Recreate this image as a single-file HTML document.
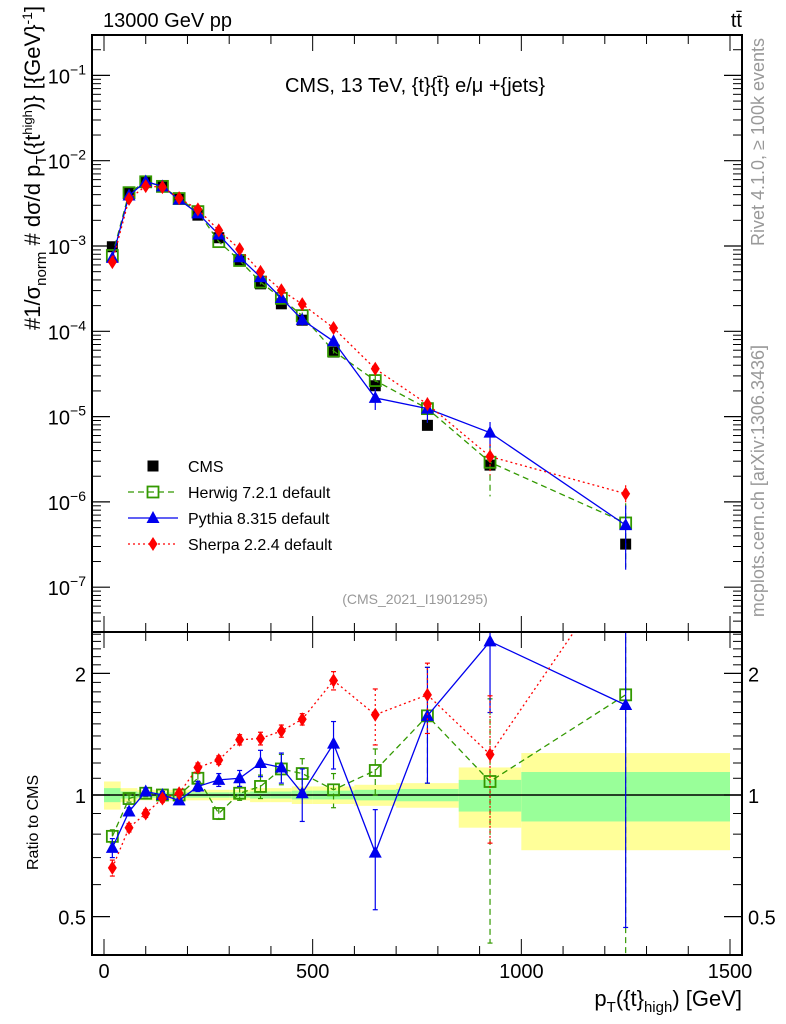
<!DOCTYPE html>
<html><head><meta charset="utf-8"><style>
html,body{margin:0;padding:0;background:#fff;}
svg{display:block;font-family:"Liberation Sans",sans-serif;}
</style></head><body>
<svg id="c" width="786" height="1024" viewBox="0 0 786 1024" xmlns="http://www.w3.org/2000/svg">
<defs>
<clipPath id="cm"><rect x="92" y="35" width="650" height="597"/></clipPath>
<clipPath id="cr"><rect x="92" y="632" width="650" height="323"/></clipPath>
</defs>
<text x="103" y="27" font-size="20">13000 GeV pp</text>
<text x="742" y="27" font-size="20" text-anchor="end">tt̄</text>
<text x="415" y="92" font-size="20" text-anchor="middle">CMS, 13 TeV, {t}{t̄} e/μ +{jets}</text>
<text x="415" y="604" font-size="14" fill="#999" text-anchor="middle">(CMS_2021_I1901295)</text>
<text transform="translate(764,38) rotate(-90)" font-size="18" fill="#999" text-anchor="end">Rivet 4.1.0, ≥ 100k events</text>
<text transform="translate(764,345) rotate(-90)" font-size="18" fill="#999" text-anchor="end">mcplots.cern.ch [arXiv:1306.3436]</text>
<text transform="translate(40,330) rotate(-90)" font-size="22">#<tspan dy="0">1/σ</tspan><tspan font-size="15" dy="6">norm</tspan><tspan dy="-6"> # dσ/d p</tspan><tspan font-size="15" dy="6">T</tspan><tspan dy="-6">({t</tspan><tspan font-size="13" dy="-8">high</tspan><tspan dy="8">)} [{GeV}</tspan><tspan font-size="14" dy="-8">-1</tspan><tspan dy="8">]</tspan></text>
<text transform="translate(38,870) rotate(-90)" font-size="16">Ratio to CMS</text>
<text x="742" y="1006" font-size="22" text-anchor="end">p<tspan font-size="15" dy="6">T</tspan><tspan dy="-6">({t}</tspan><tspan font-size="15" dy="6">high</tspan><tspan dy="-6">) [GeV]</tspan></text>
<g id="g"></g>
</svg>
<script>
const xCenters=[20,60,100,140,180,225,275,325,375,425,475,550,650,775,925,1250];
const binEdges=[0,40,80,120,160,200,250,300,350,400,450,500,600,700,850,1000,1500];
const cmsVals=[9.8e-4,4.3e-3,5.6e-3,5.0e-3,3.6e-3,2.3e-3,1.25e-3,6.7e-4,3.6e-4,2.1e-4,1.35e-4,5.7e-5,2.3e-5,7.9e-6,2.7e-6,3.2e-7];
const bandYellow=[0.08,0.04,0.03,0.03,0.03,0.03,0.03,0.03,0.04,0.04,0.05,0.05,0.06,0.07,0.17,0.27];
const bandGreen=[0.04,0.02,0.015,0.015,0.015,0.015,0.015,0.015,0.02,0.02,0.025,0.025,0.03,0.035,0.09,0.14];
const herwigRatio=[0.79,0.98,1.01,1.0,1.0,1.10,0.90,1.01,1.05,1.16,1.13,1.03,1.15,1.57,1.08,1.77];
const herwigErr=[0.03,0.02,0.02,0.02,0.02,0.03,0.03,0.04,0.07,0.1,0.1,0.1,0.15,0.5,0.65,1.5];
const pythiaRatio=[0.74,0.91,1.02,1.0,0.97,1.05,1.09,1.10,1.20,1.17,1.01,1.34,0.72,1.57,2.4,1.67];
const pythiaErr=[0.04,0.02,0.02,0.02,0.02,0.03,0.04,0.05,0.09,0.1,0.15,0.18,0.2,0.5,0.8,1.2];
const sherpaRatio=[0.66,0.83,0.90,0.98,1.01,1.17,1.22,1.37,1.38,1.44,1.54,1.92,1.58,1.77,1.26,3.9];
const sherpaErr=[0.03,0.02,0.02,0.02,0.02,0.03,0.03,0.04,0.05,0.05,0.05,0.1,0.25,0.35,0.5,1.0];
const mainTicks=[-7,-6,-5,-4,-3,-2,-1];
const ratioTicks=[0.5,1,2];
const xTicks=[0,500,1000,1500];

const NS="http://www.w3.org/2000/svg";
const G=document.getElementById('g');
const X=v=>104+v*0.41733;
const YM=v=>246-(Math.log10(v)+3)*85.3;
const YR=v=>795-Math.log10(v)*404;
function el(t,a,p){const e=document.createElementNS(NS,t);for(const k in a)e.setAttribute(k,a[k]);(p||G).appendChild(e);return e;}

const bandG=el('g',{'clip-path':'url(#cr)'});


for(let i=0;i<xCenters.length;i++){
  const x0=X(binEdges[i]),x1=X(binEdges[i+1]);
  el('rect',{x:x0,y:YR(1+bandYellow[i]),width:x1-x0,height:YR(1-bandYellow[i])-YR(1+bandYellow[i]),fill:'#ffff99'},bandG);
  el('rect',{x:x0,y:YR(1+bandGreen[i]),width:x1-x0,height:YR(1-bandGreen[i])-YR(1+bandGreen[i]),fill:'#99ff99'},bandG);
}
el('line',{x1:92,x2:742,y1:YR(1),y2:YR(1),stroke:'#000','stroke-width':1.5});

const models=[
 {name:'herwig',r:herwigRatio,e:herwigErr,c:'#339900',dash:'6,4',mk:'sq'},
 {name:'pythia',r:pythiaRatio,e:pythiaErr,c:'#0000ee',dash:'',mk:'tri'},
 {name:'sherpa',r:sherpaRatio,e:sherpaErr,c:'#ff0000',dash:'2,3',mk:'dia'}];
function marker(mk,x,y,c,p){
  if(mk==='sq')return el('rect',{x:x-5.5,y:y-5.5,width:11,height:11,fill:'none',stroke:c,'stroke-width':1.8},p);
  if(mk==='tri')return el('polygon',{points:`${x},${y-7} ${x-6.5},${y+5} ${x+6.5},${y+5}`,fill:c},p);
  if(mk==='dia')return el('polygon',{points:`${x},${y-7} ${x-4.5},${y} ${x},${y+7} ${x+4.5},${y}`,fill:c},p);
  return el('rect',{x:x-5.5,y:y-5.5,width:11,height:11,fill:c},p);
}
const mainG=el('g',{'clip-path':'url(#cm)'});
const cmsG=el('g',{},mainG);


for(let i=0;i<xCenters.length;i++){const m=marker('cms',X(xCenters[i]),YM(cmsVals[i]),'#000',cmsG);}
for(const md of models){
  const gm=el('g',{},mainG);
  
  
  const pts=xCenters.map((x,i)=>X(x)+','+YM(cmsVals[i]*md.r[i])).join(' ');
  el('polyline',{points:pts,fill:'none',stroke:md.c,'stroke-width':1.3,'stroke-dasharray':md.dash},gm);
  for(let i=0;i<xCenters.length;i++){
    const v=cmsVals[i]*md.r[i],re=Math.min(md.e[i]/md.r[i],0.7),x=X(xCenters[i]);
    if(re>0.06){el('line',{x1:x,x2:x,y1:YM(v*(1+re)),y2:YM(v*(1-re)),stroke:md.c,'stroke-width':1.2,'stroke-dasharray':md.dash},gm);}
    marker(md.mk,x,YM(v),md.c,gm);
  }
}
const ratG=el('g',{'clip-path':'url(#cr)'});
for(const md of models){
  const gr=el('g',{},ratG);
  
  
  const pts=xCenters.map((x,i)=>X(x)+','+YR(md.r[i])).join(' ');
  el('polyline',{points:pts,fill:'none',stroke:md.c,'stroke-width':1.3,'stroke-dasharray':md.dash},gr);
  for(let i=0;i<xCenters.length;i++){
    const x=X(xCenters[i]),r=md.r[i],e=md.e[i];
    const lo=Math.max(r-e,0.3);
    el('line',{x1:x,x2:x,y1:YR(r+e),y2:YR(lo),stroke:md.c,'stroke-width':1.2,'stroke-dasharray':md.dash},gr);
    el('line',{x1:x-2.5,x2:x+2.5,y1:YR(r+e),y2:YR(r+e),stroke:md.c,'stroke-width':1.2},gr);
    el('line',{x1:x-2.5,x2:x+2.5,y1:YR(lo),y2:YR(lo),stroke:md.c,'stroke-width':1.2},gr);
    marker(md.mk,x,YR(r),md.c,gr);
  }
}
el('rect',{x:92,y:35,width:650,height:597,fill:'none',stroke:'#000','stroke-width':2});
el('rect',{x:92,y:632,width:650,height:323,fill:'none',stroke:'#000','stroke-width':2});
for(const d of mainTicks){
  const y=YM(Math.pow(10,d));
  el('line',{x1:92,x2:110,y1:y,y2:y,stroke:'#000','stroke-width':1.2});
  el('line',{x1:724,x2:742,y1:y,y2:y,stroke:'#000','stroke-width':1.2});
  const t=el('text',{x:86,y:y+8,'font-size':20,'text-anchor':'end'});
  
  
  t.innerHTML='10<tspan font-size="14" dy="-9">−'+(-d)+'</tspan>';
}
for(let d=-8;d<=0;d++)for(let k=2;k<=9;k++){
  const y=YM(k*Math.pow(10,d));if(y<35||y>632)continue;
  el('line',{x1:92,x2:101,y1:y,y2:y,stroke:'#000','stroke-width':1});
  el('line',{x1:733,x2:742,y1:y,y2:y,stroke:'#000','stroke-width':1});
}
for(const r of ratioTicks){
  const y=YR(r);
  el('line',{x1:92,x2:110,y1:y,y2:y,stroke:'#000','stroke-width':1.2});
  el('line',{x1:724,x2:742,y1:y,y2:y,stroke:'#000','stroke-width':1.2});
  const t=el('text',{x:86,y:y+8,'font-size':20,'text-anchor':'end'});t.textContent=String(r);
  
  
  const t2=el('text',{x:748,y:y+8,'font-size':20});t2.textContent=String(r);
  
  
}
for(const r of [0.4,0.6,0.7,0.8,0.9,1.1,1.2,1.3,1.4,1.5,1.6,1.7,1.8,1.9,2.1,2.2,2.3,2.4,2.5]){
  const y=YR(r);if(y<632||y>955)continue;
  el('line',{x1:92,x2:101,y1:y,y2:y,stroke:'#000','stroke-width':1});
  el('line',{x1:733,x2:742,y1:y,y2:y,stroke:'#000','stroke-width':1});
}
for(let v=0;v<=1500;v+=100){
  const x=X(v),big=v%500===0,L=big?16:9;
  for(const [yb,yt] of [[632,35],[955,632]]){
    el('line',{x1:x,x2:x,y1:yb,y2:yb-L,stroke:'#000','stroke-width':1});
    el('line',{x1:x,x2:x,y1:yt,y2:yt+L,stroke:'#000','stroke-width':1});
  }
}
for(const v of xTicks){
  const t=el('text',{x:X(v),y:978,'font-size':20,'text-anchor':'middle'});t.textContent=String(v);
  
  
}
const leg=[['CMS','cms','#000',''],['Herwig 7.2.1 default','sq','#339900','6,4'],['Pythia 8.315 default','tri','#0000ee',''],['Sherpa 2.2.4 default','dia','#ff0000','2,3']];
const LG=el('g',{});


leg.forEach((l,i)=>{
  const y=466+i*26;
  const e=el('g',{},LG);
  
  
  if(i>0)el('line',{x1:128,x2:178,y1:y,y2:y,stroke:l[2],'stroke-width':1.3,'stroke-dasharray':l[3]},e);
  marker(l[1],153,y,l[2],e);
  const t=el('text',{x:188,y:y+6,'font-size':16},e);t.textContent=l[0];
});
</script>
</body></html>
